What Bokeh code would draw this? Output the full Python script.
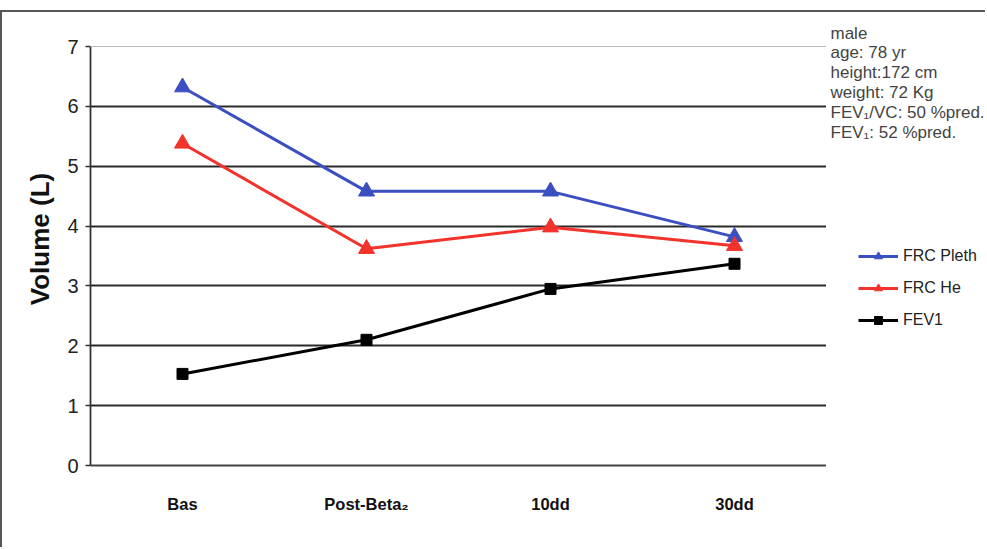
import math
from bokeh.plotting import figure
from bokeh.layouts import row
from bokeh.models import FactorRange, FixedTicker, Legend, LegendItem, Span, Range1d
from bokeh.core.properties import value
from bokeh.embed import file_html
from bokeh.resources import INLINE

categories = ["Bas", "Post-Beta\u2082", "10dd", "30dd"]
frc_pleth = [6.32, 4.58, 4.58, 3.82]
frc_he = [5.38, 3.62, 3.98, 3.67]
fev1 = [1.53, 2.10, 2.95, 3.37]
y_ticks = [0, 1, 2, 3, 4, 5, 6, 7]
series_names = ["FRC Pleth", "FRC He", "FEV1"]
info_lines = ["male", "age: 78 yr", "height:172  cm", "weight: 72 Kg",
              "FEV\u2081/VC: 50 %pred.", "FEV\u2081: 52 %pred."]

FONT = "Liberation Sans"
BLUE = "#3b4fc1"
RED = "#f2332b"
BLACK = "#000000"
H = 535
FRAME_H = 453          # frame spans from top of content down to the x axis
AXIS_H = 419           # pixel height of the 0..7 part of the axis

p = figure(x_range=FactorRange(*categories), y_range=(0, 7 * FRAME_H / AXIS_H),
           width=824, height=H, output_backend="svg", toolbar_location=None,
           min_border_left=88, min_border_right=0, min_border_top=0,
           min_border_bottom=H - FRAME_H)
p.outline_line_color = None
p.xgrid.grid_line_color = None
p.ygrid.ticker = FixedTicker(ticks=[1, 2, 3, 4, 5, 6])
p.ygrid.grid_line_color = "#2a2a2a"
p.ygrid.grid_line_width = 1.8
p.add_layout(Span(location=7, dimension="width", line_color="#bbbbbb", line_width=1))

p.yaxis.bounds = (0, 7)
p.yaxis.ticker = FixedTicker(ticks=y_ticks)
p.yaxis.axis_label = "Volume (L)"
p.yaxis.axis_label_text_font = FONT
p.yaxis.axis_label_text_font_style = "bold"
p.yaxis.axis_label_text_font_size = "26px"
p.yaxis.axis_label_text_color = "#111111"
p.yaxis.axis_label_standoff = 9
p.yaxis.major_label_text_font = FONT
p.yaxis.major_label_text_font_size = "20px"
p.yaxis.major_label_text_color = "#222222"
p.yaxis.major_label_standoff = 7
p.yaxis.major_tick_in = 0
p.yaxis.major_tick_out = 5
p.yaxis.minor_tick_line_color = None
p.yaxis.axis_line_color = "#333333"
p.yaxis.axis_line_width = 1.8
p.yaxis.major_tick_line_color = "#333333"
p.yaxis.major_tick_line_width = 1.5

p.xaxis.major_label_text_font = FONT
p.xaxis.major_label_text_font_style = "bold"
p.xaxis.major_label_text_font_size = "16.5px"
p.xaxis.major_label_text_color = "#111111"
p.xaxis.major_label_standoff = 23
p.xaxis.major_tick_line_color = None
p.xaxis.axis_line_color = "#444444"
p.xaxis.axis_line_width = 2

styles = [(frc_pleth, BLUE, "triangle", 16),
          (frc_he, RED, "triangle", 16),
          (fev1, BLACK, "square", 11)]
for vals, col, marker, size in styles:
    p.line(categories, vals, line_color=col, line_width=3)
    p.scatter(categories, vals, marker=marker, size=size, fill_color=col, line_color=col)

# side panel with patient info and legend (its frame is aligned with the main frame)
p2 = figure(width=159, height=H, x_range=Range1d(0, 159), y_range=Range1d(FRAME_H, 0),
            x_axis_type=None, y_axis_type=None, output_backend="svg", toolbar_location=None,
            min_border=0, min_border_bottom=H - FRAME_H)
p2.outline_line_color = None
p2.grid.grid_line_color = None
p2.text(x=[4] * len(info_lines), y=[21, 40, 60, 80, 100, 120], text=info_lines,
        text_font=value(FONT), text_font_size="17px", text_color="#444444",
        text_baseline="middle", text_align="left")

items = []
for name, (vals, col, marker, size) in zip(series_names, styles):
    l = p2.line(x=[math.nan], y=[math.nan], line_color=col, line_width=3)
    s = p2.scatter(x=[math.nan], y=[math.nan], marker=marker, size=size * 0.6,
                   fill_color=col, line_color=col)
    items.append(LegendItem(label=name, renderers=[l, s]))
legend = Legend(items=items, location=(32, 135), padding=0, margin=0, spacing=12,
                glyph_width=40, glyph_height=20, label_standoff=5,
                label_text_font=FONT, label_text_font_size="16px", label_text_color="#222222",
                border_line_color=None, background_fill_alpha=0)
p2.add_layout(legend, "center")

layout = row(p, p2, spacing=0)
layout.styles = {"border-top": "2px solid #555555", "border-left": "2px solid #555555",
                 "margin-top": "10px"}

open("out.html", "w").write(file_html(layout, INLINE))
